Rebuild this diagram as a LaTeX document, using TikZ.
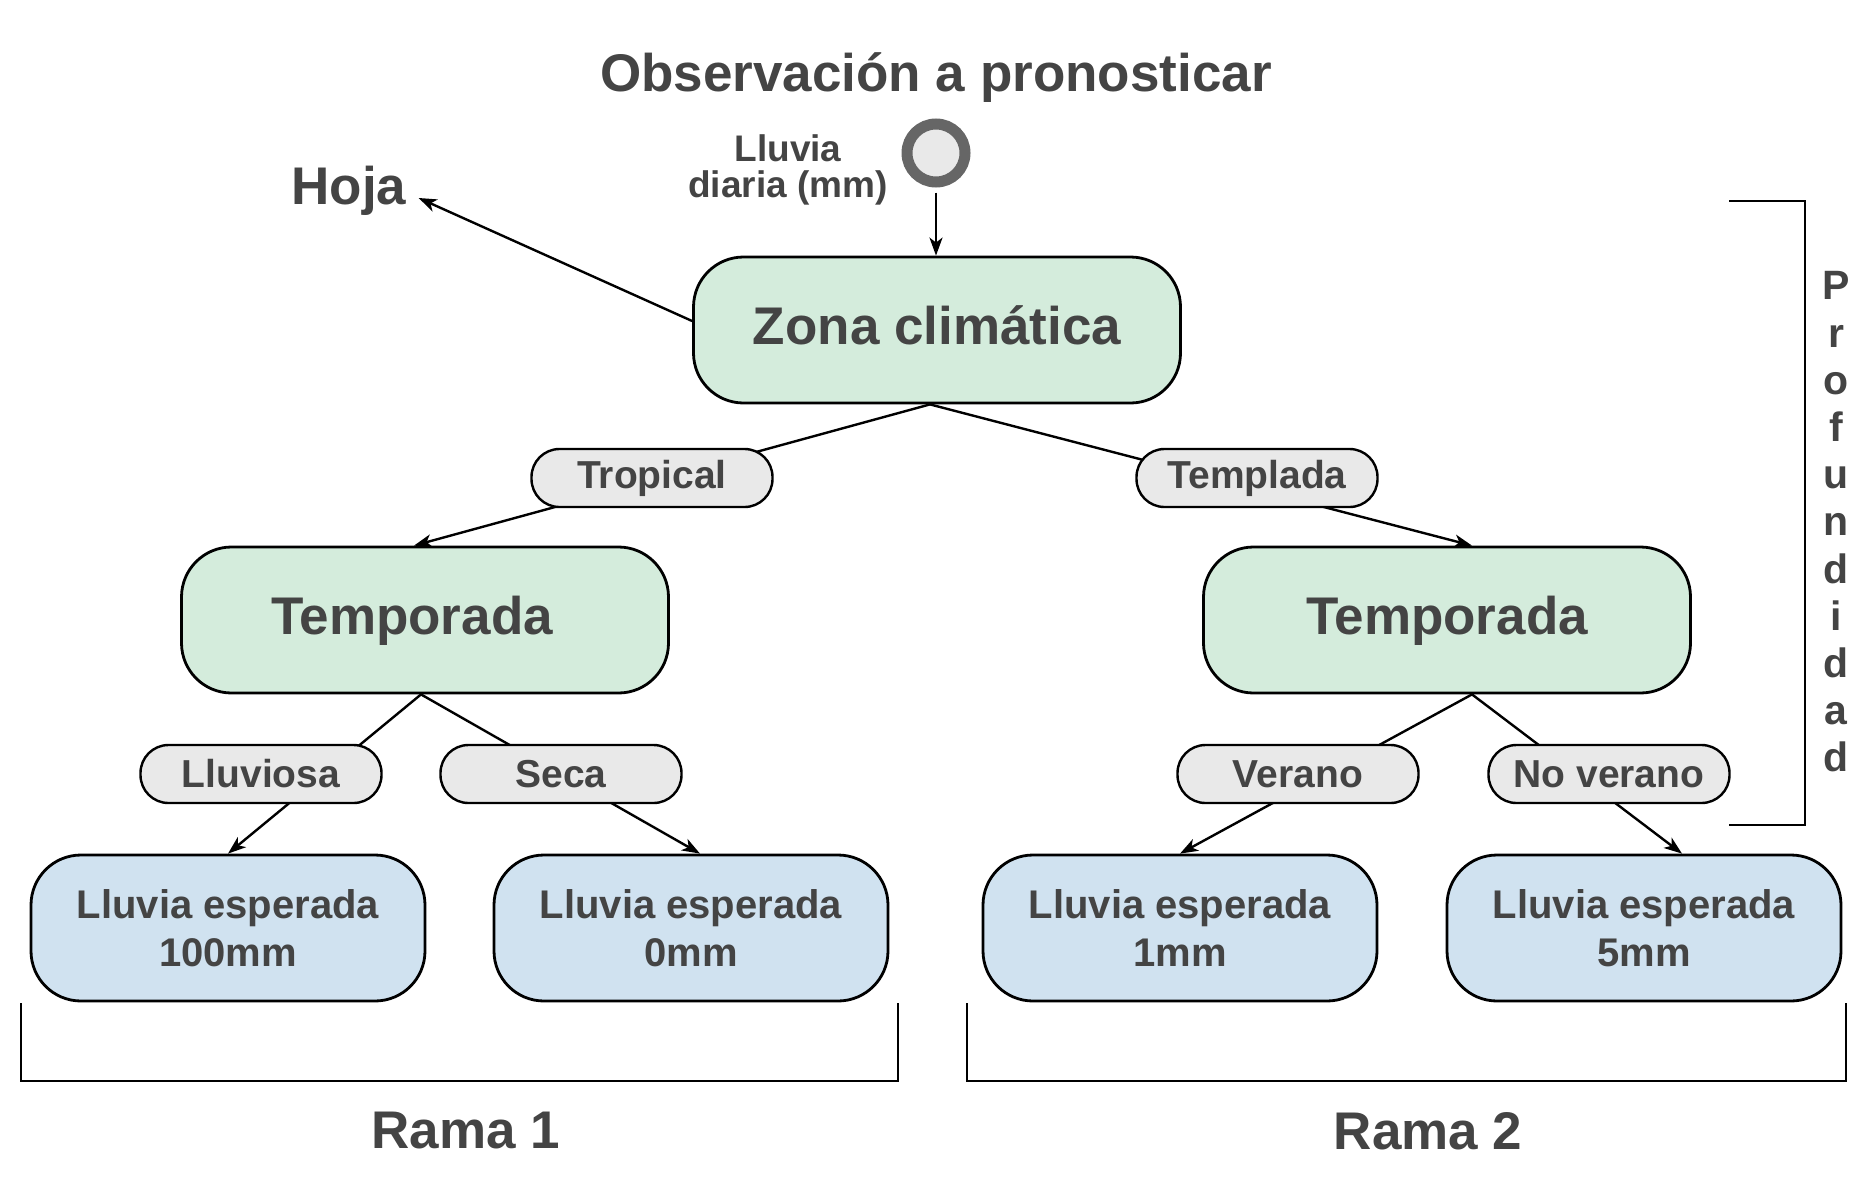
\documentclass[tikz,border=0pt]{standalone}
\usepackage{fontspec}
\setmainfont{Liberation Sans}
\usetikzlibrary{arrows.meta}
\definecolor{txt}{HTML}{444444}
\definecolor{grn}{HTML}{D4ECDC}
\definecolor{blu}{HTML}{D0E2F0}
\definecolor{pil}{HTML}{E9E9E9}
\definecolor{circ}{HTML}{666666}
\tikzset{
  mainbox/.style={draw=black, line width=2.8pt, fill=grn, rounded corners=50pt,
    minimum width=487pt, minimum height=146pt, inner sep=0pt, text=txt,
    text height=38pt, text depth=10pt,
    font=\fontsize{53}{60}\selectfont\bfseries},
  leafbox/.style={draw=black, line width=2.8pt, fill=blu, rounded corners=50pt,
    minimum width=394pt, minimum height=146pt, inner sep=0pt, align=center, text=txt,
    font=\fontsize{40}{48}\selectfont\bfseries},
  pill/.style={draw=black, line width=2.4pt, fill=pil, rounded corners=28pt,
    minimum width=241pt, minimum height=58pt, inner sep=0pt, text=txt,
    font=\fontsize{39}{44}\selectfont\bfseries},
  conn/.style={line width=2.4pt, draw=black},
  arr/.style={conn, -{Stealth[length=18pt,width=13pt,inset=5pt]}},
  biglbl/.style={text=txt, inner sep=0pt, font=\fontsize{53}{60}\selectfont\bfseries},
  smalllbl/.style={text=txt, inner sep=0pt, align=center, font=\fontsize{37}{36}\selectfont\bfseries},
  brk/.style={line width=2.8pt, draw=black},
}
\begin{document}
\begin{tikzpicture}[x=1pt,y=-1pt]
\useasboundingbox (0,0) rectangle (1872,1200);

% title and input
\node[biglbl] (title) at (936,78) {Observación a pronosticar};
\node[circle, draw=circ, line width=11pt, fill=pil, minimum size=58pt, inner sep=0pt] (obs) at (936,153) {};
\node[smalllbl] (var) at (788,170) {Lluvia\\diaria (mm)};
\node[biglbl] (hoja) at (349,191) {Hoja};

% boxes
\node[mainbox] (zona) at (937,330) {Zona climática};
\node[mainbox] (tl) at (425,620) {\hspace*{-26pt}Temporada};
\node[mainbox] (tr) at (1447,620) {Temporada};
\node[leafbox] (l1) at (228,928) {Lluvia esperada\\100mm};
\node[leafbox] (l2) at (691,928) {Lluvia esperada\\0mm};
\node[leafbox] (l3) at (1180,928) {Lluvia esperada\\1mm};
\node[leafbox] (l4) at (1644,928) {Lluvia esperada\\5mm};

% connectors
\draw[arr, shorten <=5pt] (obs.south) -- ([xshift=-1pt]zona.north);
\draw[arr] ([yshift=9pt]zona.west) -- ([xshift=12pt,yshift=-7pt]hoja.east);
\draw[arr] ([xshift=-7pt]zona.south) -- ([xshift=-11pt]tl.north);
\draw[arr] ([xshift=-7pt]zona.south) -- ([xshift=25pt]tr.north);
\draw[arr] ([xshift=-4pt]tl.south) -- (l1.north);
\draw[arr] ([xshift=-4pt]tl.south) -- ([xshift=9pt]l2.north);
\draw[arr] ([xshift=25pt]tr.south) -- (l3.north);
\draw[arr] ([xshift=25pt]tr.south) -- ([xshift=38pt]l4.north);

% edge labels
\node[pill] (trop) at (652,478) {Tropical};
\node[pill] (temp) at (1257,478) {Templada};
\node[pill] (lluv) at (261,774) {Lluviosa};
\node[pill] (seca) at (561,774) {Seca};
\node[pill] (ver) at (1298,774) {Verano};
\node[pill] (nover) at (1609,774) {No verano};

% brackets
\draw[brk] (21,1003) -- (21,1081) -- (898,1081) -- (898,1003);
\draw[brk] (967,1003) -- (967,1081) -- (1846,1081) -- (1846,1003);
\draw[brk] (1729,201) -- (1805,201) -- (1805,825) -- (1729,825);
\node[biglbl] (rama1) at (466,1131) {Rama 1};
\node[biglbl] (rama2) at (1428,1131) {Rama 2};
\node[text=txt, inner sep=0pt, align=center, font=\fontsize{41}{47.2}\selectfont\bfseries] (prof) at (1836,522)
  {P\\r\\o\\f\\u\\n\\d\\i\\d\\a\\d};
\end{tikzpicture}
\end{document}
